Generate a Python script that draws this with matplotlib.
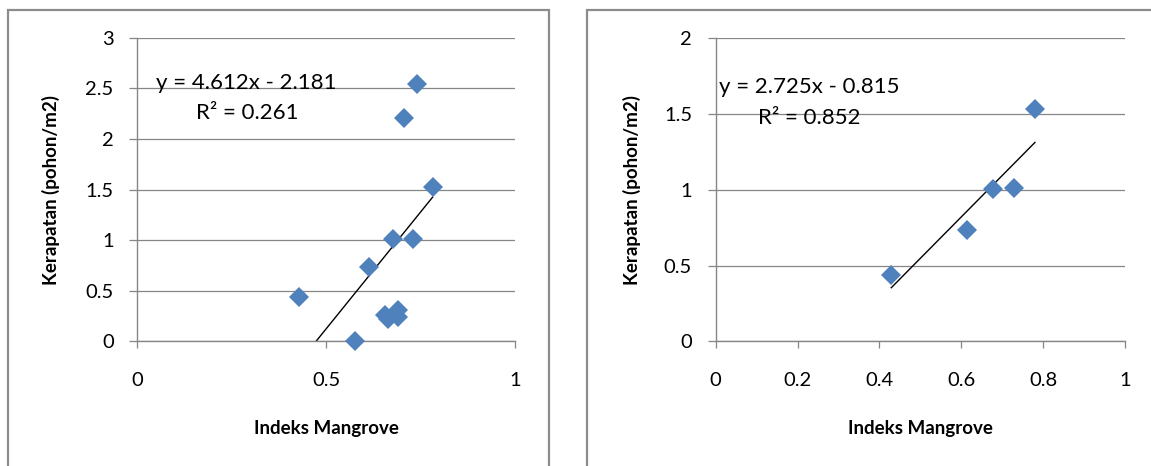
import matplotlib
matplotlib.use('Agg')
import matplotlib.pyplot as plt
import matplotlib.patches as patches
from matplotlib.ticker import FuncFormatter
import numpy as np

plt.rcParams['font.family'] = ['Lato', 'DejaVu Sans']

# Data
x_left = [0.429, 0.577, 0.614, 0.676, 0.730, 0.782, 0.707, 0.740, 0.655, 0.664, 0.690, 0.690]
y_left = [0.442, 0.0, 0.738, 1.012, 1.012, 1.530, 2.210, 2.545, 0.266, 0.220, 0.315, 0.240]
x_right = [0.429, 0.614, 0.678, 0.729, 0.780]
y_right = [0.440, 0.734, 1.004, 1.009, 1.530]

# trendline coefficients as printed on the chart
fit_left = (4.612, -2.181, 0.261)
fit_right = (2.725, -0.815, 0.852)

xlabel = 'Indeks Mangrove'
ylabel = 'Kerapatan (pohon/m2)'

GRID = '#868686'
BLUE = '#4F81BD'

fig = plt.figure(figsize=(11.51, 4.66), dpi=100)

# gray frames round each chart
for x0, w in [(0.0067, 0.4703), (0.5097, 0.6)]:
    fig.patches.append(patches.Rectangle((x0, -0.1), w, 1.0785, transform=fig.transFigure,
                                         fill=False, edgecolor='#8c8c8c', linewidth=1.6))


def fmt(v, pos):
    return ('%g' % round(v, 2))


def panel(rect, xs, ys, fit, ymax, xstep, ylx, eqpos, r2pos):
    ax = fig.add_axes(rect)
    ax.set_xlim(0, 1)
    ax.set_ylim(0, ymax)
    ax.set_xticks(np.arange(0, 1.0001, xstep))
    ax.set_yticks(np.arange(0, ymax + 0.001, 0.5))
    ax.xaxis.set_major_formatter(FuncFormatter(fmt))
    ax.yaxis.set_major_formatter(FuncFormatter(fmt))
    for s in ['top', 'right']:
        ax.spines[s].set_visible(False)
    for s in ['left', 'bottom']:
        ax.spines[s].set_color(GRID)
        ax.spines[s].set_linewidth(1.0)
    ax.grid(axis='y', color=GRID, linewidth=0.9)
    ax.set_axisbelow(True)
    ax.tick_params(axis='y', direction='out', length=6, width=0.9, color=GRID,
                   pad=11, labelsize=14.5)
    ax.tick_params(axis='x', direction='out', length=5, width=0.9, color=GRID,
                   pad=17, labelsize=14.5)

    slope, icpt, r2 = fit
    xl = np.array([min(xs), max(xs)])
    ax.plot(xl, slope * xl + icpt, color='black', linewidth=1.0, zorder=2)
    ax.plot(xs, ys, linestyle='none', marker='D', markersize=10, color=BLUE,
            markeredgewidth=0, zorder=3, clip_on=False)

    ax.set_xlabel(xlabel, fontsize=13.5, fontweight='bold')
    ax.set_ylabel(ylabel, fontsize=13.5, fontweight='bold')
    ax.xaxis.set_label_coords(0.5, -0.258)
    ax.yaxis.set_label_coords(ylx, 0.5)

    ax.text(eqpos[0], eqpos[1], 'y = %.3fx - %.3f' % (slope, -icpt), transform=ax.transAxes,
            ha='center', va='center', fontsize=16)
    ax.text(r2pos[0], r2pos[1], 'R² = %.3f' % r2, transform=ax.transAxes,
            ha='center', va='center', fontsize=16)
    return ax


panel([0.1193, 0.2672, 0.3281, 0.6519], x_left, y_left, fit_left, 3, 0.5, -0.2045,
      (0.288, 0.851), (0.290, 0.752))
panel([0.6218, 0.2672, 0.3556, 0.6519], x_right, y_right, fit_right, 2, 0.2, -0.183,
      (0.228, 0.838), (0.229, 0.736))

fig.savefig('out.png', dpi=100)
